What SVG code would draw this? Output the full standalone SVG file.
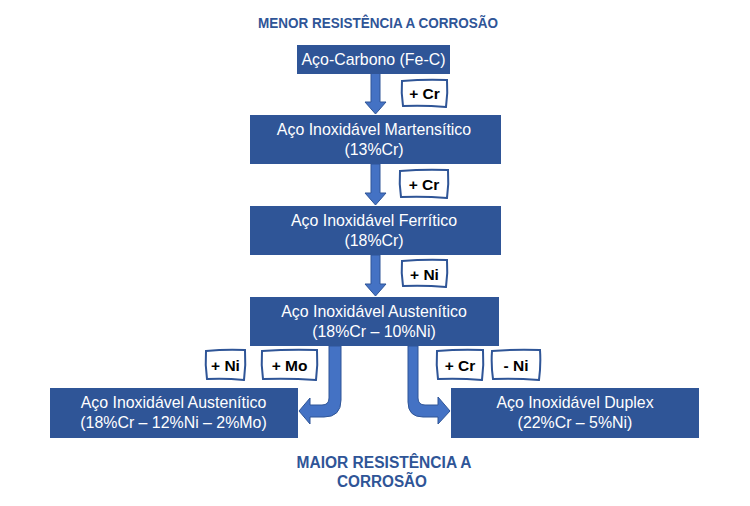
<svg xmlns="http://www.w3.org/2000/svg" width="750" height="506" viewBox="0 0 750 506">
<style>
.box{fill:#2F5597;stroke:#2F5597;stroke-width:1}
.bt{font-family:"Liberation Sans",Arial,sans-serif;font-size:15.9px;fill:#FFFFFF;text-anchor:middle}
.title{font-family:"Liberation Sans",Arial,sans-serif;font-weight:bold;fill:#2F5597;text-anchor:middle}
.arr{fill:#4472C4;stroke:#2F5597;stroke-width:1}
.lb{fill:#FFFFFF;stroke:#2F5597;stroke-width:2}
.lt{font-family:"Liberation Sans",Arial,sans-serif;font-size:15.5px;font-weight:bold;fill:#000000;text-anchor:middle}
</style>
<rect width="750" height="506" fill="#FFFFFF"/>
<text class="title" x="378" y="28" font-size="14.6" textLength="240" lengthAdjust="spacingAndGlyphs">MENOR RESISTÊNCIA A CORROSÃO</text>
<text class="title" x="384" y="468" font-size="16.8" textLength="175" lengthAdjust="spacingAndGlyphs">MAIOR RESISTÊNCIA A</text>
<text class="title" x="382" y="487" font-size="16.8" textLength="90" lengthAdjust="spacingAndGlyphs">CORROSÃO</text>
<g id="connectors">
<path class="arr" d="M371,73 L380,73 L380,102 L386,102 L375.5,114 L365,102 L371,102 Z"/>
<path class="arr" d="M371,164 L380,164 L380,193 L386,193 L375.5,205 L365,193 L371,193 Z"/>
<path class="arr" d="M371,255 L380,255 L380,284 L386,284 L375.5,296 L365,284 L371,284 Z"/>
<path class="arr" d="M329,346 L341,346 L341,400 Q341,417 324,417 L310,417 L310,424 L299,411 L310,398 L310,405 L322,405 Q329,405 329,398 Z"/>
<path class="arr" d="M408,346 L418,346 L418,398 Q418,405 425,405 L438,405 L438,397 L450,411 L438,424 L438,417 L423,417 Q408,417 408,402 Z"/>
</g>
<g id="label-cr1">
<path class="lb" d="M402,81 Q425,79 447,80 Q448,93 446,107 Q424,105 403,106 Q401,93 402,81 Z"/>
<text class="lt" x="424.5" y="99">+ Cr</text>
</g>
<g id="label-cr2">
<path class="lb" d="M400,171 Q424,169 448,170 Q449,184 447,198 Q424,196 401,197 Q399,184 400,171 Z"/>
<text class="lt" x="424" y="189.5">+ Cr</text>
</g>
<g id="label-ni1">
<path class="lb" d="M402,261 Q425,259 447,260 Q448,273 446,287 Q424,285 403,286 Q401,273 402,261 Z"/>
<text class="lt" x="424.5" y="279.5">+ Ni</text>
</g>
<g id="label-ni2">
<path class="lb" d="M206,351 Q226,349 245,350 Q246,365 244,380 Q225,378 207,379 Q205,365 206,351 Z"/>
<text class="lt" x="225.5" y="370.5">+ Ni</text>
</g>
<g id="label-mo">
<path class="lb" d="M262,351 Q290,349 317,350 Q318,365 316,380 Q289,378 263,379 Q261,365 262,351 Z"/>
<text class="lt" x="289.5" y="370.5">+ Mo</text>
</g>
<g id="label-cr3">
<path class="lb" d="M437,351 Q460,349 483,350 Q484,365 482,380 Q459,378 438,379 Q436,365 437,351 Z"/>
<text class="lt" x="460" y="370.5">+ Cr</text>
</g>
<g id="label-ni3">
<path class="lb" d="M492,351 Q516,349 540,350 Q541,365 539,380 Q515,378 493,379 Q491,365 492,351 Z"/>
<text class="lt" x="516" y="370.5">- Ni</text>
</g>
<g id="node-carbono">
<rect class="box" x="297.5" y="45.5" width="152" height="28"/>
<text class="bt" x="373.5" y="65">Aço-Carbono (Fe-C)</text>
</g>
<g id="node-martensitico">
<rect class="box" x="250.5" y="115.5" width="250" height="48"/>
<text class="bt" x="374" y="135">Aço Inoxidável Martensítico</text>
<text class="bt" x="374" y="155">(13%Cr)</text>
</g>
<g id="node-ferritico">
<rect class="box" x="250.5" y="206.5" width="250" height="48"/>
<text class="bt" x="374" y="226">Aço Inoxidável Ferrítico</text>
<text class="bt" x="374" y="246">(18%Cr)</text>
</g>
<g id="node-austenitico">
<rect class="box" x="250.5" y="297.5" width="248" height="48"/>
<text class="bt" x="374" y="317">Aço Inoxidável Austenítico</text>
<text class="bt" x="374" y="337">(18%Cr – 10%Ni)</text>
</g>
<g id="node-austenitico-mo">
<rect class="box" x="50.5" y="388.5" width="247" height="49"/>
<text class="bt" x="173.5" y="408">Aço Inoxidável Austenítico</text>
<text class="bt" x="173.5" y="428">(18%Cr – 12%Ni – 2%Mo)</text>
</g>
<g id="node-duplex">
<rect class="box" x="451.5" y="388.5" width="247" height="49"/>
<text class="bt" x="575" y="408">Aço Inoxidável Duplex</text>
<text class="bt" x="575" y="428">(22%Cr – 5%Ni)</text>
</g>
</svg>
